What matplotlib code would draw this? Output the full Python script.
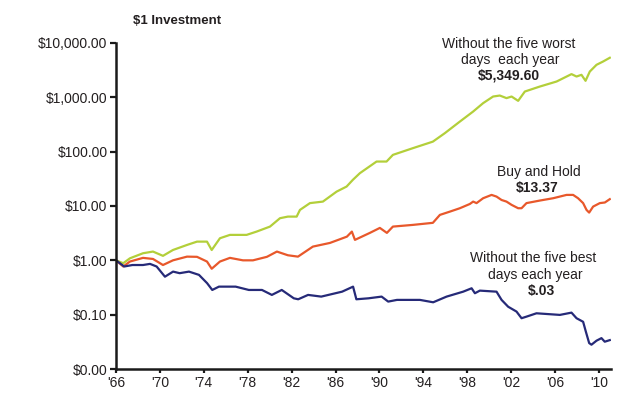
import matplotlib
matplotlib.use("Agg")
import matplotlib.pyplot as plt
from matplotlib.ticker import FixedLocator, FixedFormatter

plt.rcParams['font.family'] = ['Liberation Sans', 'DejaVu Sans']

# ---- data ----
worst_years = [1966.0, 1966.66, 1967.27, 1968.46, 1969.37, 1970.28, 1971.19, 1972.47,
               1973.38, 1974.29, 1974.72, 1975.47, 1976.38, 1977.90, 1978.81, 1980.03,
               1980.94, 1981.66, 1982.46, 1982.76, 1983.67, 1984.85, 1986.10, 1987.01,
               1987.58, 1988.22, 1989.74, 1990.65, 1991.23, 1993.05, 1994.87, 1995.96,
               1997.33, 1998.54, 1999.45, 2000.36, 2000.97, 2001.58, 2002.04, 2002.64,
               2003.25, 2004.62, 2006.14, 2007.50, 2007.96, 2008.41, 2008.78, 2009.17,
               2009.78, 2010.38, 2010.99]
worst_values = [1.0, 0.885, 1.09, 1.35, 1.45, 1.21, 1.55, 1.92,
                2.21, 2.21, 1.55, 2.55, 2.94, 2.94, 3.38, 4.18,
                5.96, 6.38, 6.38, 8.47, 11.3, 12.05, 18.4, 22.8,
                30.3, 40.2, 65.8, 65.8, 87.3, 116, 153, 219,
                358, 548, 782, 1035, 1079, 967, 1035, 862,
                1279, 1581, 1954, 2675, 2416, 2597, 2013, 2985,
                3968, 4564, 5349.6]

hold_years = [1966.0, 1966.66, 1967.27, 1968.46, 1969.37, 1970.28, 1971.19, 1972.47,
              1973.38, 1974.29, 1974.72, 1975.47, 1976.38, 1977.57, 1978.48, 1979.75,
              1980.66, 1981.66, 1982.58, 1983.94, 1985.49, 1987.04, 1987.49, 1987.77,
              1989.13, 1990.04, 1990.68, 1991.23, 1993.05, 1994.87, 1995.51, 1996.42,
              1997.33, 1998.24, 1998.54, 1998.85, 1999.45, 2000.22, 2000.67, 2001.13,
              2001.58, 2002.04, 2002.64, 2002.95, 2003.40, 2004.62, 2005.83, 2007.05,
              2007.65, 2008.10, 2008.56, 2008.87, 2009.11, 2009.47, 2010.08, 2010.54,
              2010.99]
hold_values = [1.0, 0.77, 0.95, 1.11, 1.06, 0.82, 1.0, 1.17,
               1.16, 0.95, 0.70, 0.95, 1.11, 1.0, 1.0, 1.16,
               1.45, 1.24, 1.17, 1.79, 2.09, 2.73, 3.38, 2.38,
               3.2, 3.95, 3.2, 4.18, 4.49, 4.9, 6.86, 7.88,
               9.10, 10.9, 12.05, 11.3, 13.9, 16.0, 14.9, 12.9,
               12.05, 10.5, 9.10, 9.10, 11.3, 12.6, 13.9, 16.0,
               16.0, 13.9, 11.3, 8.47, 7.56, 9.75, 11.3, 11.6,
               13.37]

best_years = [1966.0, 1966.75, 1967.5, 1968.46, 1969.1, 1969.7, 1970.46, 1971.2,
              1971.8, 1972.65, 1973.56, 1974.3, 1974.77, 1975.38, 1976.9, 1978.1,
              1979.3, 1980.2, 1981.1, 1982.2, 1982.6, 1983.5, 1984.7, 1986.6,
              1987.6, 1987.9, 1989.0, 1990.2, 1990.8, 1991.6, 1993.69, 1994.90,
              1996.12, 1997.63, 1998.40, 1998.70, 1999.15, 2000.67, 2001.13, 2001.73,
              2002.49, 2002.95, 2003.40, 2004.31, 2006.44, 2007.50, 2007.96, 2008.56,
              2008.81, 2009.11, 2009.32, 2009.78, 2010.23, 2010.53, 2010.99]
best_values = [1.0, 0.77, 0.82, 0.82, 0.86, 0.77, 0.50, 0.62,
               0.58, 0.62, 0.54, 0.38, 0.285, 0.328, 0.328, 0.285,
               0.285, 0.231, 0.285, 0.20, 0.192, 0.231, 0.215, 0.265,
               0.328, 0.192, 0.20, 0.215, 0.174, 0.187, 0.187, 0.169,
               0.215, 0.265, 0.306, 0.248, 0.277, 0.265, 0.187, 0.140,
               0.114, 0.086, 0.092, 0.106, 0.099, 0.109, 0.086, 0.074,
               0.0486, 0.030, 0.028, 0.0332, 0.037, 0.0318, 0.034]

y_ticks = [0.01, 0.1, 1, 10, 100, 1000, 10000]
y_labels = ['$0.00', '$0.10', '$1.00', '$10.00', '$100.00', '$1,000.00', '$10,000.00']
x_ticks = [1966, 1970, 1974, 1978, 1982, 1986, 1990, 1994, 1998, 2002, 2006, 2010]
x_labels = ["'66", "'70", "'74", "'78", "'82", "'86", "'90", "'94", "'98", "'02", "'06", "'10"]

GREEN = '#b3cf3a'
ORANGE = '#e8582b'
NAVY = '#262a78'
TXT = '#231f20'

fig = plt.figure(figsize=(6.4, 3.99), dpi=100)
ax = fig.add_axes([116/640, 1-369/399, (611-116)/640, (369-43)/399])

ax.plot(worst_years, worst_values, color=GREEN, lw=1.6, solid_joinstyle='round')
ax.plot(hold_years, hold_values, color=ORANGE, lw=1.6, solid_joinstyle='round')
ax.plot(best_years, best_values, color=NAVY, lw=1.6, solid_joinstyle='round')

ax.set_yscale('log')
ax.set_ylim(0.01, 10000)
ax.set_xlim(1966, 2011.1)
ax.yaxis.set_major_locator(FixedLocator(y_ticks))
ax.yaxis.set_major_formatter(FixedFormatter(y_labels))
ax.yaxis.set_minor_locator(FixedLocator([]))
ax.set_xticks(x_ticks)
ax.set_xticklabels(x_labels)

for s in ['top', 'right']:
    ax.spines[s].set_visible(False)
for s in ['left', 'bottom']:
    ax.spines[s].set_linewidth(1.8)
    ax.spines[s].set_color('#1a1a1a')
ax.tick_params(axis='y', length=4, width=1.6, pad=2, labelsize=10, colors='#1a1a1a', labelcolor=TXT)
ax.tick_params(axis='x', length=3, width=1.6, pad=2, labelsize=10, colors='#1a1a1a', labelcolor=TXT)

fig.text(133/640, 1-20.5/399, '$1 Investment', fontsize=9.5, fontweight='bold',
         color=TXT, ha='left', va='center')

def lab(x, y, s, bold=False):
    fig.text(x/640, 1-y/399, s, fontsize=10, ha='center', va='center', color=TXT,
             fontweight='bold' if bold else 'normal')

lab(509, 43.5, 'Without the five worst')
lab(510, 60, 'days  each year')
lab(509, 76, '$5,349.60', True)
lab(539, 172, 'Buy and Hold')
lab(537, 188, '$13.37', True)
lab(533, 258.5, 'Without the five best')
lab(535, 275, 'days each year')
lab(541, 291, '$.03', True)

fig.savefig('out.png', dpi=100)
